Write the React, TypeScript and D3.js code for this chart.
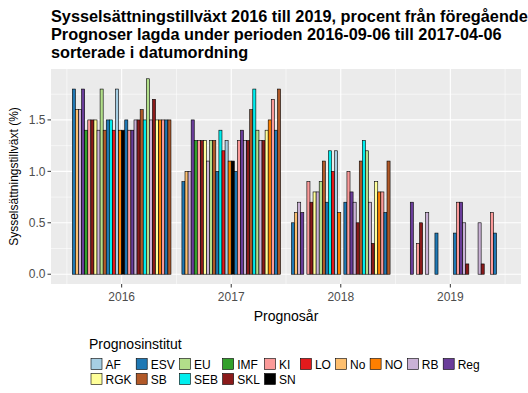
import * as d3 from 'd3';

// institutes, alphabetical legend order
const institutes = ['AF', 'ESV', 'EU', 'IMF', 'KI', 'LO', 'No', 'NO', 'RB', 'Reg', 'RGK', 'SB', 'SEB', 'SKL', 'SN'];
const instColors = ['#a6cee3', '#1f78b4', '#b2df8a', '#33a02c', '#fb9a99', '#e31a1c', '#fdbf6f', '#ff7f00', '#cab2d6', '#6a3d9a', '#ffff99', '#b15928', '#00eeee', '#8b1a1a', '#000000'];

// forecasts in date order (2016-09-06 .. 2017-04-06)
const forecasts = ['ESV', 'No', 'RB', 'Reg', 'IMF', 'KI', 'SKL', 'RGK', 'RB', 'EU', 'SB', 'ESV', 'SEB', 'LO', 'AF', 'NO',
  'SN', 'ESV', 'KI', 'Reg', 'RB', 'SKL', 'SB', 'SEB', 'EU', 'RB', 'SKL', 'RGK', 'NO', 'KI', 'ESV', 'SB'];

const years = [2016, 2017, 2018, 2019];
const v2016 = [1.8, 1.6, 1.6, 1.8, 1.4, 1.5, 1.5, 1.5, 1.4, 1.8, 1.4, 1.5, 1.5, 1.4, 1.8, 1.4,
  1.4, 1.5, 1.4, 1.4, 1.5, 1.5, 1.6, 1.5, 1.9, 1.5, 1.7, 1.5, 1.5, 1.5, 1.5, 1.5];
const v2017 = [0.9, 1.0, 1.0, 1.5, 1.3, 1.3, 1.3, 1.3, 1.1, 1.3, 1.3, 1.0, 1.4, 1.2, 1.3, 1.1,
  1.1, 1.0, 1.3, 1.4, 1.3, 1.3, 1.6, 1.8, 1.4, 1.3, 1.3, 1.4, 1.5, 1.7, 1.4, 1.8];
const v2018 = [0.5, 0.6, 0.7, 0.6, null, 0.9, 0.7, 0.8, 0.8, 0.9, 1.1, 0.7, 1.2, 1.0, 1.2, 0.6,
  null, 0.7, 1.0, 0.8, 0.7, 0.5, 1.1, 1.3, 1.2, 0.7, 0.3, 0.9, 0.8, 0.8, 0.6, 1.1];
const v2019 = [null, null, null, 0.7, null, 0.3, 0.5, null, 0.6, null, null, 0.4, null, null, null, null,
  null, 0.4, 0.7, 0.7, 0.5, 0.1, null, null, null, 0.5, 0.1, null, null, 0.6, 0.4, null];
const values = [v2016, v2017, v2018, v2019];

const yTicks = [0, 0.5, 1, 1.5];
const yMinor = [0.25, 0.75, 1.25, 1.75];
const xMinor = [2015.5, 2016.5, 2017.5, 2018.5, 2019.5];

const titleLines = [
  'Sysselsättningstillväxt 2016 till 2019, procent från föregående år',
  'Prognoser lagda under perioden 2016-09-06 till 2017-04-06',
  'sorterade i datumordning',
];

const FONT = '"Liberation Sans", Arial, sans-serif';

const measure = (txt: string, size: number) => {
  const c = document.createElement('canvas').getContext('2d');
  if (!c) return txt.length * size * 0.6;
  c.font = `${size}px "Liberation Sans", Arial, sans-serif`;
  return c.measureText(txt).width;
};

export default function App() {
  const W = 528;
  const H = 393;
  const left = 51;
  const right = 521;
  const top = 69;
  const bottom = 284;

  const x = d3.scaleLinear().domain([2015.355, 2019.645]).range([left, right]);
  const y = d3.scaleLinear().domain([-0.095, 1.995]).range([bottom, top]);
  const color = d3.scaleOrdinal<string, string>().domain(institutes).range(instColors);
  const groupW = x(2016.9) - x(2016);
  const dodge = d3.scaleBand<number>().domain(d3.range(forecasts.length)).range([-groupW / 2, groupW / 2]).padding(0);

  const bars: { key: string; x: number; y: number; w: number; h: number; fill: string }[] = [];
  years.forEach((yr, yi) => {
    values[yi].forEach((v, i) => {
      if (v === null) return;
      const bx = x(yr) + (dodge(i) ?? 0);
      bars.push({ key: `${yr}-${i}`, x: bx, y: y(v), w: dodge.bandwidth(), h: y(0) - y(v), fill: color(forecasts[i]) });
    });
  });

  // legend: 10 columns, filled by row
  const nCol = 10;
  const keySize = 11;
  const labelSize = 12;
  const gap = 3.5;
  const colW = d3.range(nCol).map((c) => {
    const labs = institutes.filter((_, i) => i % nCol === c);
    return keySize + gap + (d3.max(labs, (l) => measure(l, labelSize)) ?? 0) + 4.7;
  });
  const colX = colW.map((_, c) => 91 + d3.sum(colW.slice(0, c)));

  return (
    <svg width={W} height={H} style={{ position: 'absolute', left: 0, top: 0, background: '#fff' }} fontFamily={FONT}>
      {titleLines.map((t, i) => (
        <text key={i} x={left} y={21.5 + i * 18.3} fontSize={16.3} fontWeight="bold" fill="#000">{t}</text>
      ))}
      <rect x={left} y={top} width={right - left} height={bottom - top} fill="#ebebeb" />
      {yMinor.map((t) => (
        <line key={`ym${t}`} x1={left} x2={right} y1={y(t)} y2={y(t)} stroke="#fff" strokeWidth={0.55} />
      ))}
      {xMinor.map((t) => (
        <line key={`xm${t}`} x1={x(t)} x2={x(t)} y1={top} y2={bottom} stroke="#fff" strokeWidth={0.55} />
      ))}
      {yTicks.map((t) => (
        <line key={`yg${t}`} x1={left} x2={right} y1={y(t)} y2={y(t)} stroke="#fff" strokeWidth={1.1} />
      ))}
      {years.map((t) => (
        <line key={`xg${t}`} x1={x(t)} x2={x(t)} y1={top} y2={bottom} stroke="#fff" strokeWidth={1.1} />
      ))}
      {bars.map((b) => (
        <rect key={b.key} x={b.x} y={b.y} width={b.w} height={b.h} fill={b.fill} stroke="#000" strokeWidth={0.6} />
      ))}
      {yTicks.map((t) => (
        <g key={`yt${t}`}>
          <line x1={left - 3.5} x2={left} y1={y(t)} y2={y(t)} stroke="#333" strokeWidth={1} />
          <text x={left - 5.5} y={y(t)} dy="0.35em" textAnchor="end" fontSize={12} fill="#4d4d4d">{d3.format('.1f')(t)}</text>
        </g>
      ))}
      {years.map((t) => (
        <g key={`xt${t}`}>
          <line x1={x(t)} x2={x(t)} y1={bottom} y2={bottom + 3.5} stroke="#333" strokeWidth={1} />
          <text x={x(t)} y={bottom + 17} textAnchor="middle" fontSize={12} fill="#4d4d4d">{t}</text>
        </g>
      ))}
      <text x={(left + right) / 2} y={321} textAnchor="middle" fontSize={14} fill="#000">Prognosår</text>
      <text transform={`translate(17.5,${(top + bottom) / 2}) rotate(-90)`} textAnchor="middle" fontSize={12} fill="#000">
        Sysselsättningstillväxt (%)
      </text>
      <text x={89} y={349} fontSize={14} fill="#000">Prognosinstitut</text>
      {institutes.map((inst, i) => {
        const c = i % nCol;
        const r = Math.floor(i / nCol);
        const ky = 358.5 + r * 15;
        return (
          <g key={inst}>
            <rect x={colX[c]} y={ky} width={keySize} height={keySize} fill={color(inst)} stroke="#000" strokeWidth={0.6} />
            <text x={colX[c] + keySize + gap} y={ky + keySize / 2} dy="0.38em" fontSize={labelSize} fill="#000">{inst}</text>
          </g>
        );
      })}
    </svg>
  );
}
